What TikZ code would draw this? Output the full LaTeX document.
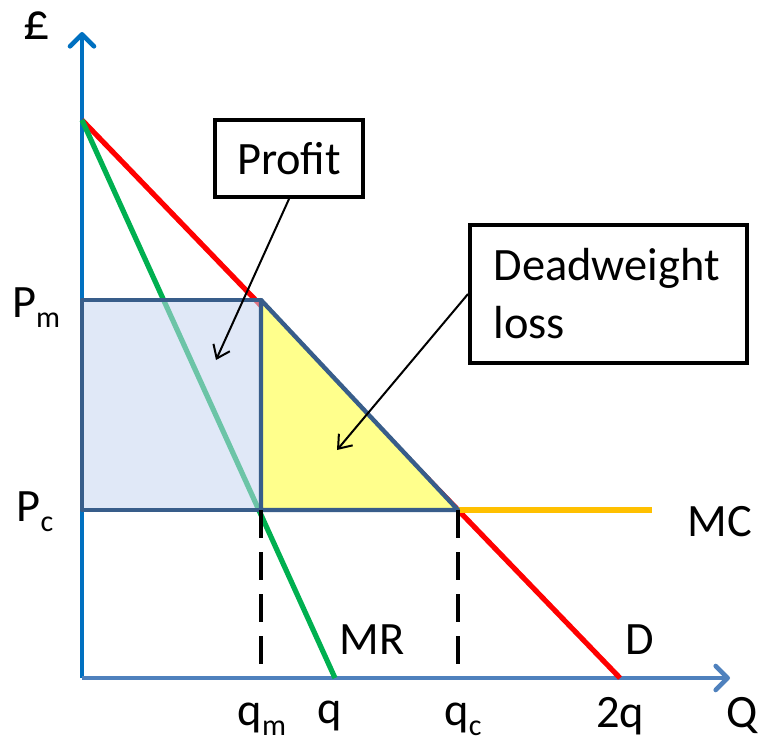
\documentclass[tikz,border=0pt]{standalone}
\usepackage{fontspec}
\setmainfont{Carlito}
\usepackage{tikz}
\usetikzlibrary{arrows.meta, positioning, calc}
\definecolor{AxisBlue}{RGB}{0, 112, 192}
\definecolor{AxisSteel}{RGB}{79, 129, 189}
\definecolor{CurveRed}{RGB}{255, 0, 0}
\definecolor{CurveGreen}{RGB}{0, 176, 80}
\definecolor{CostGold}{RGB}{255, 192, 0}
\definecolor{EdgeBlue}{RGB}{56, 93, 138}
\definecolor{ProfitFill}{RGB}{198, 214, 240}
\definecolor{LossFill}{RGB}{255, 255, 140}
\newcommand{\lowsub}[1]{\raisebox{-0.45ex}{\fontsize{15}{15}\selectfont #1}}

\begin{document}
\begin{tikzpicture}[
    x=0.5pt, y=-0.5pt,
    font=\fontsize{23.2}{29}\selectfont,
    axis/.style={line width=2.3pt, -{Straight Barb[length=6pt, width=12pt, round]}},
    curve/.style={line width=2.6pt},
    area/.style={draw=EdgeBlue, line width=2.2pt, line join=round},
    guide/.style={line width=2.4pt, dash pattern=on 14pt off 7pt},
    callout/.style={
        rectangle, draw=black, line width=2pt, fill=white,
        inner sep=0pt
    },
    note/.style={line width=1pt, -{Straight Barb[length=6pt, width=9pt]}},
    lbl/.style={inner sep=0pt}
]
\useasboundingbox (0,0) rectangle (765,745);

% Points
\coordinate (origin) at (82,678);
\coordinate (ytop) at (82,32);
\coordinate (xend) at (730,678);
\coordinate (choke) at (82,120);
\coordinate (dend) at (620,678);
\coordinate (mrend) at (335,678);
\coordinate (pmaxis) at (82,300);
\coordinate (pcaxis) at (82,510);
\coordinate (mono) at (261,300);
\coordinate (mcut) at (261,510);
\coordinate (comp) at (458,510);
\coordinate (mcend) at (652,510);
\coordinate (qmfoot) at (261,678);
\coordinate (qcfoot) at (458,678);
\coordinate (profitpt) at (216,360);
\coordinate (losspt) at (337,450);

% Axes and curves
\draw[axis, AxisBlue] (origin) -- (ytop);
\draw[axis, AxisSteel] (origin) -- (xend);
\draw[curve, CurveRed] (choke) -- (dend);
\draw[curve, CurveGreen] (choke) -- (mrend);
\draw[curve, CostGold] (comp) -- (mcend);

% Areas
\fill[ProfitFill, fill opacity=0.55] (pmaxis) rectangle (mcut);
\draw[area] (pmaxis) rectangle (mcut);
\draw[area, fill=LossFill] (mono) -- (mcut) -- (comp) -- cycle;

\draw[guide] (mcut) -- (qmfoot);
\draw[guide] (comp) -- (qcfoot);

% Labels
\node[lbl] (pound) at (37,26) {\fontsize{26}{30}\selectfont £};
\node[lbl] (pm) at (36,308) {P\lowsub{m}};
\node[lbl] (pc) at (35,512) {P\lowsub{c}};
\node[lbl] (mc) at (720,522) {MC};
\node[lbl] (mr) at (372,640) {MR};
\node[lbl] (dlab) at (640,640) {D};
\node[lbl] (qm) at (262,719) {q\lowsub{m}};
\node[lbl] (q) at (330,716) {q};
\node[lbl] (qc) at (463,719) {q\lowsub{c}};
\node[lbl] (twoq) at (620,716) {2q};
\node[lbl] (qaxis) at (742,716) {Q};

% Callouts
\node[callout, minimum width=74pt, minimum height=38.5pt] (profit) at (289,158.5) {Profit};
\node[callout, minimum width=138.5pt, minimum height=69pt,
      text width=115pt, align=left] (dwl) at (608.5,294) {Deadweight\\loss};

\draw[note] (profit.south) -- (profitpt);
\draw[note] (dwl.west) -- (losspt);

\end{tikzpicture}
\end{document}
